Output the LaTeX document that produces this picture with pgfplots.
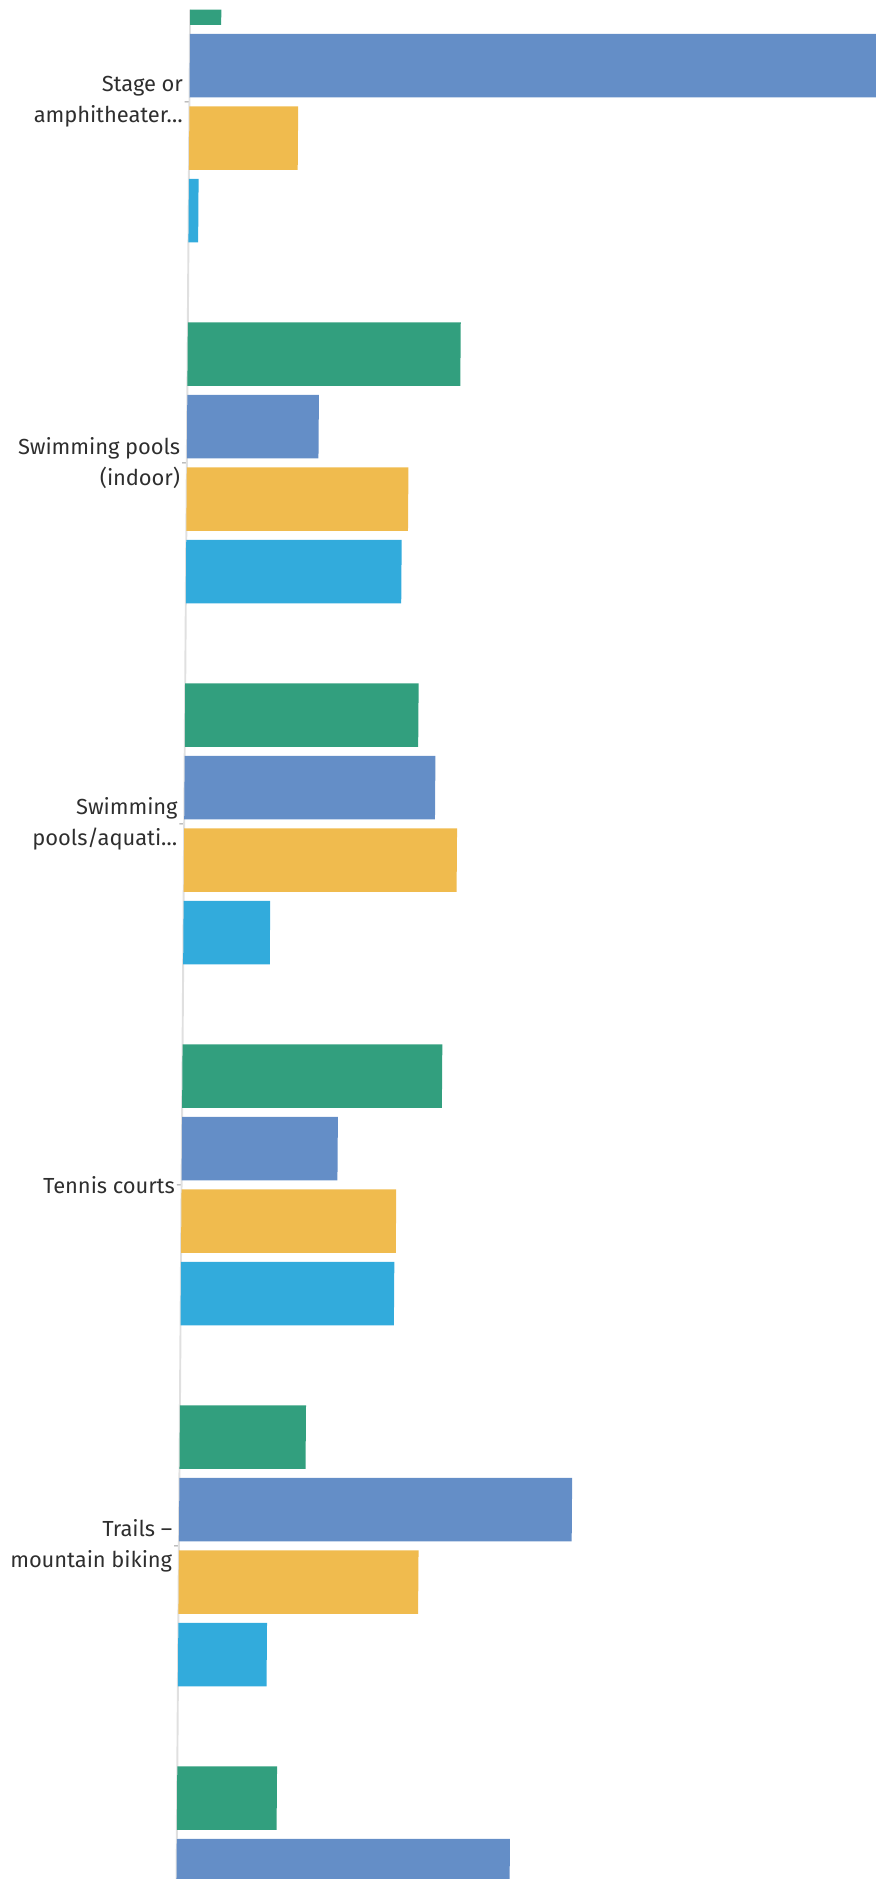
\documentclass[border=0pt]{standalone}
\usepackage{pgfplots}
\pgfplotsset{compat=1.18}
\usepackage{fontspec}
\newfontfamily\labelfont{Fira Sans}
\definecolor{cgreen}{RGB}{50,159,126}
\definecolor{cblue}{RGB}{100,142,199}
\definecolor{corange}{RGB}{240,187,78}
\definecolor{ccyan}{RGB}{50,171,220}
\begin{document}
\begin{tikzpicture}
\begin{scope}[transform canvas={xshift=-2.86pt, xslant=0.0073}]
\begin{axis}[
  at={(0,0)}, anchor=south west,
  scale only axis, width=289pt, height=780pt,
  xmin=0, xmax=100, ymin=-4.923, ymax=0.2556,
  enlargelimits=false,
  xbar, bar width=26.5pt,
  axis x line=none,
  axis y line*=left,
  y axis line style={draw=black!12, line width=0.8pt},
  ytick={0,-1,-2,-3,-4},
  yticklabels={{Stage or\\amphitheater\textellipsis},{Swimming pools\\(indoor)},{Swimming\\pools/aquati\textellipsis},{Tennis courts},{Trails –\\mountain biking}},
  tick align=outside,
  major tick length=2pt,
  ytick style={draw=black!40, line width=0.4pt},
  y tick label style={font=\labelfont\fontsize{9.1}{12.8}\selectfont, text=black!82, align=right, inner sep=0pt, xshift=-0.6pt},
  clip=true,
]
\addplot[draw=none, fill=cgreen, bar shift=45.375pt] coordinates {(4.5,0) (39.4,-1) (33.7,-2) (37.5,-3) (18.2,-4) (14.4,-5)};
\addplot[draw=none, fill=cblue, bar shift=15.125pt] coordinates {(110,0) (19.0,-1) (36.2,-2) (22.5,-3) (56.7,-4) (48.1,-5)};
\addplot[draw=none, fill=corange, bar shift=-15.125pt] coordinates {(15.7,0) (32.0,-1) (39.4,-2) (31.0,-3) (34.6,-4)};
\addplot[draw=none, fill=ccyan, bar shift=-45.375pt] coordinates {(1.4,0) (31.1,-1) (12.5,-2) (30.8,-3) (12.8,-4)};
\end{axis}
\end{scope}
\pgfresetboundingbox
\path (-76.5pt,0) rectangle (289pt,784pt);
\end{tikzpicture}
\end{document}
